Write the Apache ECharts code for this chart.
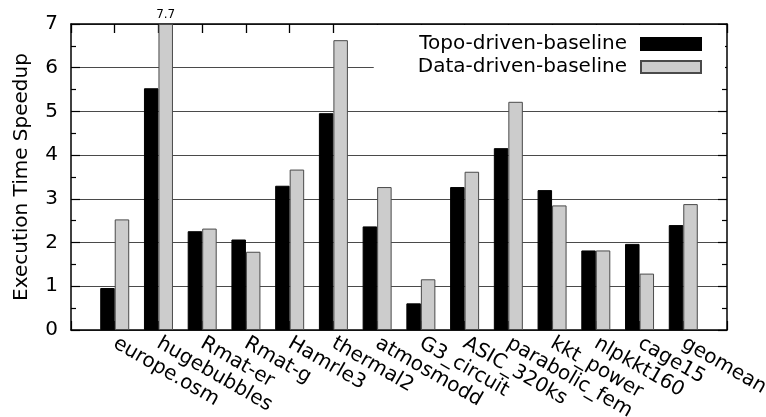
<!DOCTYPE html>
<html>
<head>
<meta charset="utf-8">
<script src="https://cdn.jsdelivr.net/npm/echarts@6/dist/echarts.min.js"></script>
<style>html,body{margin:0;padding:0;background:#fff}#c{width:766px;height:417px}</style>
</head>
<body>
<div id="c"></div>
<script>
const categories = ['europe.osm','hugebubbles','Rmat-er','Rmat-g','Hamrle3','thermal2','atmosmodd','G3_circuit','ASIC_320ks','parabolic_fem','kkt_power','nlpkkt160','cage15','geomean'];
const topoDriven = [0.96, 5.53, 2.26, 2.07, 3.30, 4.96, 2.37, 0.61, 3.27, 4.16, 3.20, 1.82, 1.97, 2.40];
const dataDriven = [2.53, 7.7, 2.32, 1.79, 3.67, 6.63, 3.27, 1.16, 3.62, 5.22, 2.85, 1.82, 1.29, 2.88];
const yTicks = [0, 1, 2, 3, 4, 5, 6, 7];
const yMax = 7;

const cats = [''].concat(categories, ['']);
function mk(vals) {
  const out = ['-'];
  vals.forEach(v => {
    out.push({
      value: Math.min(v, yMax),
      label: { show: v > yMax, formatter: String(v) }
    });
  });
  out.push('-');
  return out;
}
const font = 'DejaVu Sans';
const fs = 20;
const chart = echarts.init(document.getElementById('c'));
chart.setOption({
  animation: false,
  backgroundColor: '#fff',
  textStyle: { fontFamily: font },
  grid: { left: 71, right: 39, top: 24, bottom: 87, containLabel: false, outerBoundsMode: 'none' },
  legend: {
    orient: 'vertical',
    top: 25,
    right: 41,
    align: 'right',
    icon: 'rect',
    itemWidth: 60,
    itemHeight: 12,
    itemGap: 3,
    padding: [9, 23, 8, 44],
    backgroundColor: '#fff',
    textStyle: { fontFamily: font, fontSize: fs, color: '#000', lineHeight: 20, padding: [0, 9, 0, 0] },
    data: ['Topo-driven-baseline', 'Data-driven-baseline']
  },
  xAxis: [{
    type: 'category',
    data: cats,
    boundaryGap: false,
    position: 'bottom',
    axisLine: { onZero: false, lineStyle: { color: '#000', width: 1.5 } },
    axisTick: { show: true, inside: true, length: 9, interval: 0, lineStyle: { color: '#000', width: 1.2 } },
    minorTick: { show: false },
    axisLabel: { interval: 0, rotate: -30, fontSize: fs, color: '#000', fontFamily: font, margin: 12 },
    splitLine: { show: false }
  }, {
    type: 'value',
    min: -1, max: cats.length - 2, interval: 1,
    position: 'top',
    axisLine: { show: true, onZero: false, lineStyle: { color: '#000', width: 1.5 } },
    axisTick: { show: true, inside: true, length: 9, lineStyle: { color: '#000', width: 1.3 } },
    axisLabel: { show: false },
    splitLine: { show: false }
  }],
  yAxis: [{
    type: 'value',
    min: 0, max: yMax, interval: 1,
    position: 'left',
    name: 'Execution Time Speedup',
    nameLocation: 'middle',
    nameGap: 39,
    nameTextStyle: { fontSize: fs, color: '#000', fontFamily: font },
    axisLine: { show: true, onZero: false, lineStyle: { color: '#000', width: 1.5 } },
    axisTick: { show: true, inside: true, length: 9, lineStyle: { color: '#000', width: 1.2 } },
    minorTick: { show: true, splitNumber: 2, length: 5, lineStyle: { color: '#000', width: 1.2 } },
    axisLabel: { fontSize: fs, color: '#000', fontFamily: font, margin: 13,
      formatter: v => yTicks.indexOf(v) >= 0 ? String(v) : '' },
    splitLine: { show: true, lineStyle: { color: '#4a4a4a', width: 1 } }
  }, {
    type: 'value',
    min: 0, max: yMax, interval: 1,
    position: 'right',
    axisLine: { show: true, onZero: false, lineStyle: { color: '#000', width: 1.5 } },
    axisTick: { show: true, inside: true, length: 9, lineStyle: { color: '#000', width: 1.2 } },
    minorTick: { show: true, splitNumber: 2, length: 5, lineStyle: { color: '#000', width: 1.2 } },
    axisLabel: { show: false },
    splitLine: { show: false }
  }],
  series: [{
    name: 'Topo-driven-baseline',
    type: 'bar',
    xAxisIndex: 0, yAxisIndex: 0,
    barWidth: 14.5,
    barGap: '0%',
    itemStyle: { color: '#000', borderColor: '#000', borderWidth: 1 },
    data: mk(topoDriven)
  }, {
    name: 'Data-driven-baseline',
    type: 'bar',
    xAxisIndex: 0, yAxisIndex: 0,
    barWidth: 14.5,
    barGap: '0%',
    itemStyle: { color: '#cccccc', borderColor: '#4a4a4a', borderWidth: 1 },
    label: { position: 'top', distance: 3, fontSize: 12, color: '#000', fontFamily: font },
    data: mk(dataDriven)
  }]
});
</script>
</body>
</html>
